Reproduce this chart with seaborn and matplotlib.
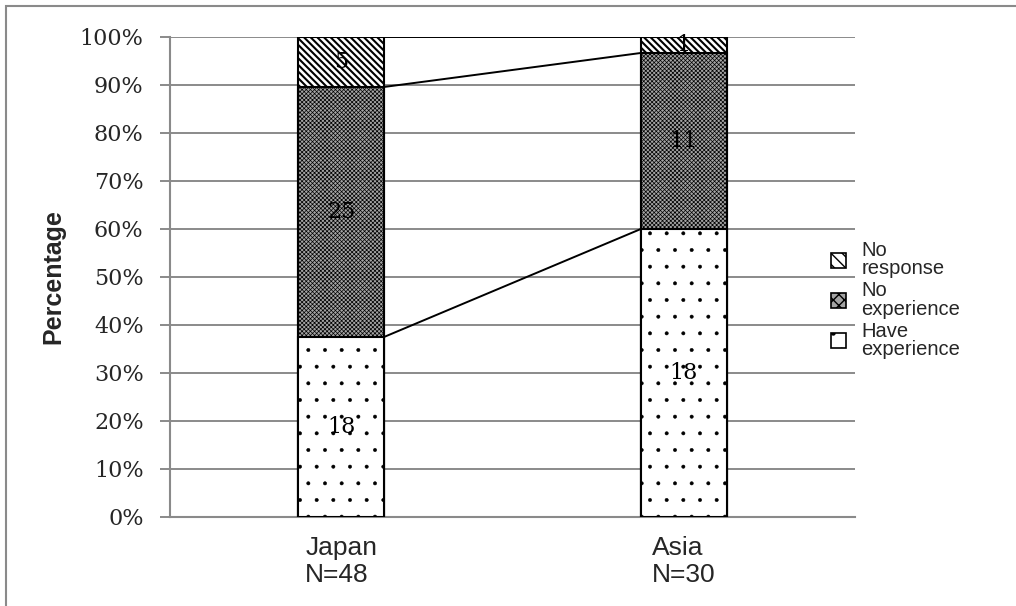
import matplotlib
matplotlib.use("Agg")
import matplotlib.pyplot as plt
from matplotlib.patches import Rectangle, Patch
import numpy as np
import pandas as pd
import seaborn as sns

# Survey counts per group
regions = ["Japan", "Asia"]
sample_sizes = [48, 30]
have_experience = [18, 18]
no_experience = [25, 11]
no_response = [5, 1]
series_names = ["Have\nexperience", "No\nexperience", "No\nresponse"]

sns.set_style("white")
plt.rcParams["font.family"] = ["Liberation Sans", "DejaVu Sans"]

n = np.array(sample_sizes, dtype=float)
have_pct = np.array(have_experience) / n * 100
noexp_pct = np.array(no_experience) / n * 100
noresp_pct = np.array(no_response) / n * 100
cum_have = have_pct
cum_noexp = have_pct + noexp_pct
cum_total = cum_noexp + noresp_pct

labels = [f"{r}\nN={s}" for r, s in zip(regions, sample_sizes)]
df = pd.DataFrame({"group": labels, "have": cum_have, "noexp": cum_noexp, "total": cum_total})

fig = plt.figure(figsize=(10.16, 6.06), dpi=100)
ax = fig.add_axes([0.1673, 0.1469, 0.6742, 0.7921])

grid_c = "#8a8a8a"
bar_w = 0.25
# (column, face, hatch, hatch width, counts, segment top, segment height)
layers = [
    ("total", "white", "\\" * 5, 1.5, no_response, cum_total, noresp_pct),
    ("noexp", "#a4a4a4", "x" * 8, 0.5, no_experience, cum_noexp, noexp_pct),
    ("have", "white", ".", 0.35, have_experience, cum_have, have_pct),
]
for col, fc, hatch, hlw, counts, top, height in layers:
    with plt.rc_context({"hatch.linewidth": hlw, "hatch.color": "black"}):
        sns.barplot(data=df, x="group", y=col, color=fc, saturation=1,
                    width=bar_w, edgecolor="black", linewidth=1.5,
                    hatch=hatch, ax=ax, zorder=3)

# count labels in the middle of each segment
serif = ["DejaVu Serif"]
for col, fc, hatch, hlw, counts, top, height in layers:
    for i, c in enumerate(counts):
        ax.text(i, top[i] - height[i] / 2, str(c), ha="center", va="center",
                fontsize=16, family=serif, color="black", zorder=5)

# series lines between the stacked bars
for cum in (cum_have, cum_noexp, cum_total):
    ax.plot([0 + bar_w / 2, 1 - bar_w / 2], [cum[0], cum[1]], color="black",
            lw=1.4, zorder=4, solid_capstyle="butt")

ax.set_xlim(-0.5, 1.5)
ax.set_ylim(0, 100)
ax.set_yticks(np.arange(0, 101, 10))
ax.set_yticklabels([f"{v}%" for v in range(0, 101, 10)], family=serif, fontsize=16)
ax.yaxis.grid(True, color=grid_c, lw=1.4, zorder=0)
ax.set_axisbelow(True)
ax.tick_params(axis="y", length=7, width=1.4, color=grid_c, pad=12, left=True)
ax.tick_params(axis="x", length=0, pad=14, labelsize=19)
for t in ax.get_xticklabels():
    t.set_multialignment("left")
    t.set_linespacing(1.15)
for s in ("top", "right"):
    ax.spines[s].set_visible(False)
for s in ("left", "bottom"):
    ax.spines[s].set_color(grid_c)
    ax.spines[s].set_linewidth(1.5)
ax.set_xlabel("")
ax.set_ylabel("Percentage", fontsize=18, fontweight="bold", labelpad=10)

# legend, top entry first
leg_handles = []
for col, fc, hatch, hlw, counts, top, height in layers:
    with plt.rc_context({"hatch.linewidth": 0.8, "hatch.color": "black"}):
        leg_handles.append(Patch(facecolor=fc, edgecolor="black",
                                 hatch=hatch[:3], linewidth=1.2))
ax.legend(leg_handles, [series_names[2], series_names[1], series_names[0]],
          loc="center left", bbox_to_anchor=(0.965, 0.452), frameon=False,
          fontsize=14.5, handlelength=0.75, handleheight=0.75, handletextpad=0.75,
          labelspacing=0.15, borderpad=0, borderaxespad=0)
for t in ax.get_legend().get_texts():
    t.set_linespacing(0.95)

fig.patches.append(Rectangle((6 / 1016, -0.1), 1.2, 1.1 - 6 / 606,
                             transform=fig.transFigure, fill=False,
                             edgecolor="#8a8a8a", lw=1.5))

fig.savefig("out.png", dpi=100)
